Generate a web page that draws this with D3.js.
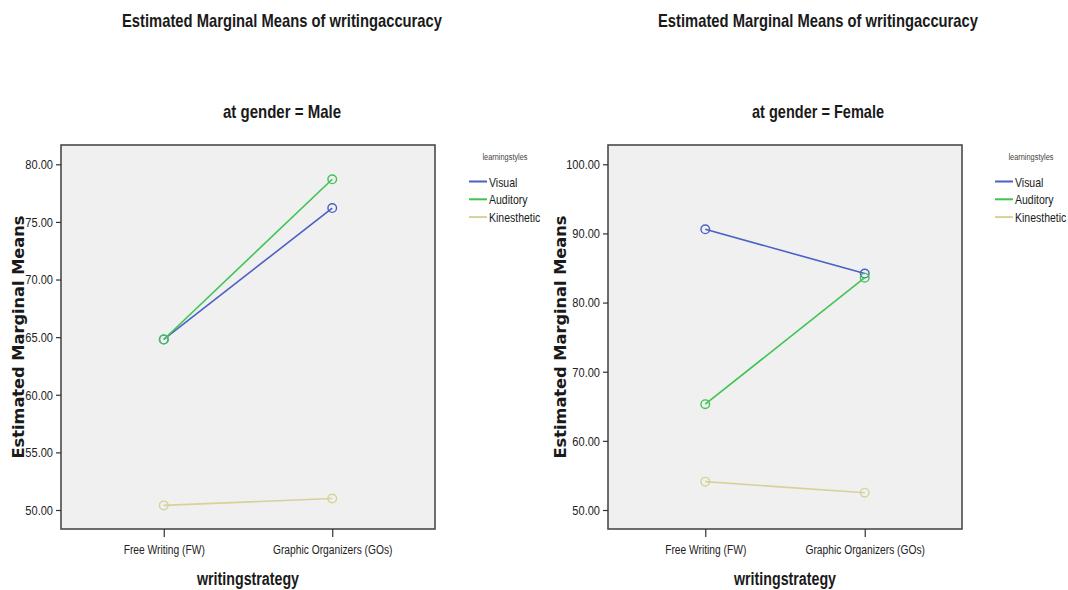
<!DOCTYPE html>
<html>
<head>
<meta charset="utf-8">
<script src="https://cdn.jsdelivr.net/npm/d3@7"></script>
<style>
  body { margin: 0; background: #fff; }
  svg { display: block; }
  text { font-family: "Liberation Sans", Arial, sans-serif; fill: #1a1a1a; }
</style>
</head>
<body>
<div id="chart"></div>
<script>
// data -------------------------------------------------------------
const strategies = ['Free Writing (FW)', 'Graphic Organizers (GOs)'];
const styles = ['Visual', 'Auditory', 'Kinesthetic'];
const styleColors = ['#4a60c4', '#3fc454', '#d6d29a'];

const maleValues = [
  [64.8, 76.2],   // Visual
  [64.8, 78.7],   // Auditory
  [50.4, 51.0]    // Kinesthetic
];
const femaleValues = [
  [90.6, 84.2],
  [65.3, 83.6],
  [54.1, 52.5]
];

const maleTicks = [50, 55, 60, 65, 70, 75, 80];
const femaleTicks = [50, 60, 70, 80, 90, 100];

const title = 'Estimated Marginal Means of writingaccuracy';
const yLabel = 'Estimated Marginal Means';
const xLabel = 'writingstrategy';
const legendTitle = 'learningstyles';

// layout -----------------------------------------------------------
const width = 1068, height = 590;
const SX = 0.82; // squeeze Liberation Sans to look like Arial Narrow

const panels = [
  { gender: 'Male', values: maleValues, ticks: maleTicks, domain: [50, 80],
    left: 61, right: 435, titleX: 282, subW: 118, yLabelX: 24, legendX: 469 },
  { gender: 'Female', values: femaleValues, ticks: femaleTicks, domain: [50, 100],
    left: 608, right: 962, titleX: 818, subW: 132, yLabelX: 566, legendX: 995 }
];
const frameTop = 145, frameBottom = 529;
const y0 = 510, yTop = 164.3; // pixel of lowest / highest tick

const svg = d3.select('#chart')
  .append('svg')
  .attr('width', width)
  .attr('height', height);

panels.forEach(p => drawPanel(p));

// narrow text placed at (x, y)
function narrowText(parent, x, y, txt, size, anchor) {
  return parent.append('g')
    .attr('transform', `translate(${x}, ${y}) scale(${SX}, 1)`)
    .append('text')
    .attr('text-anchor', anchor || 'start')
    .style('font-size', size + 'px')
    .text(txt);
}

function drawPanel(p) {
  const g = svg.append('g');

  const xScale = d3.scalePoint()
    .domain(strategies)
    .range([p.left, p.right])
    .padding(0.61);

  const yScale = d3.scaleLinear()
    .domain(p.domain)
    .range([y0, yTop]);

  // titles
  g.append('text')
    .attr('x', p.titleX).attr('y', 27)
    .attr('text-anchor', 'middle')
    .attr('textLength', 320).attr('lengthAdjust', 'spacingAndGlyphs')
    .style('font-size', '18.5px').style('font-weight', 'bold')
    .text(title);

  g.append('text')
    .attr('x', p.titleX).attr('y', 118)
    .attr('text-anchor', 'middle')
    .attr('textLength', p.subW).attr('lengthAdjust', 'spacingAndGlyphs')
    .style('font-size', '18.5px').style('font-weight', 'bold')
    .text('at gender = ' + p.gender);

  // plot frame
  g.append('rect')
    .attr('x', p.left).attr('y', frameTop)
    .attr('width', p.right - p.left).attr('height', frameBottom - frameTop)
    .attr('fill', '#f0f0f0')
    .attr('stroke', '#4a4a4a')
    .attr('stroke-width', 1.6);

  // y axis
  const yAxis = d3.axisLeft(yScale)
    .tickValues(p.ticks)
    .tickSize(5)
    .tickFormat(d3.format('.2f'));
  const ya = g.append('g')
    .attr('transform', `translate(${p.left}, 0)`)
    .call(yAxis);
  ya.select('.domain').remove();
  ya.selectAll('line').attr('stroke', '#333').attr('stroke-width', 1.2);
  ya.selectAll('text')
    .attr('x', -8 / SX)
    .attr('transform', `scale(${SX}, 1)`)
    .attr('font-family', null)
    .style('font-size', '13.5px')
    .style('fill', '#222');

  // x axis
  const xAxis = d3.axisBottom(xScale).tickSize(8).tickPadding(8);
  const xa = g.append('g')
    .attr('transform', `translate(0, ${frameBottom})`)
    .call(xAxis);
  xa.select('.domain').remove();
  xa.selectAll('line').attr('stroke', '#333').attr('stroke-width', 1.2);
  xa.selectAll('text')
    .attr('transform', `scale(${SX}, 1)`)
    .attr('font-family', null)
    .style('font-size', '12.5px')
    .style('fill', '#222');

  // axis titles
  g.append('text')
    .attr('transform', `translate(${p.yLabelX}, 337) rotate(-90)`)
    .attr('text-anchor', 'middle')
    .attr('textLength', 243).attr('lengthAdjust', 'spacingAndGlyphs')
    .style('font-family', '"DejaVu Sans", Verdana, sans-serif')
    .style('font-size', '15px').style('font-weight', 'bold')
    .text(yLabel);

  g.append('text')
    .attr('x', (xScale(strategies[0]) + xScale(strategies[1])) / 2)
    .attr('y', 585)
    .attr('text-anchor', 'middle')
    .attr('textLength', 102).attr('lengthAdjust', 'spacingAndGlyphs')
    .style('font-size', '18px').style('font-weight', 'bold')
    .text(xLabel);

  // lines and markers
  const line = d3.line()
    .x((d, i) => xScale(strategies[i]))
    .y(d => yScale(d));

  const series = g.append('g')
    .selectAll('g')
    .data(p.values)
    .join('g');

  series.append('path')
    .attr('d', d => line(d))
    .attr('fill', 'none')
    .attr('stroke', (d, i) => styleColors[i])
    .attr('stroke-width', 1.6);

  series.selectAll('circle')
    .data((d, i) => d.map((v, j) => ({ v, j, c: styleColors[i] })))
    .join('circle')
    .attr('cx', d => xScale(strategies[d.j]))
    .attr('cy', d => yScale(d.v))
    .attr('r', 4.3)
    .attr('fill', 'none')
    .attr('stroke', d => d.c)
    .attr('stroke-width', 1.4);

  // legend
  const lg = g.append('g').attr('transform', `translate(${p.legendX}, 0)`);
  narrowText(lg, 36, 160, legendTitle, 9, 'middle').style('fill', '#444');

  const items = lg.selectAll('g.item')
    .data(styles)
    .join('g')
    .attr('class', 'item')
    .attr('transform', (d, i) => `translate(0, ${181.5 + i * 17.8})`);

  items.append('line')
    .attr('x1', 0).attr('x2', 18)
    .attr('stroke', (d, i) => styleColors[i])
    .attr('stroke-width', 2);

  items.each(function(d) {
    narrowText(d3.select(this), 20, 5, d, 12.8);
  });
}
</script>
</body>
</html>
